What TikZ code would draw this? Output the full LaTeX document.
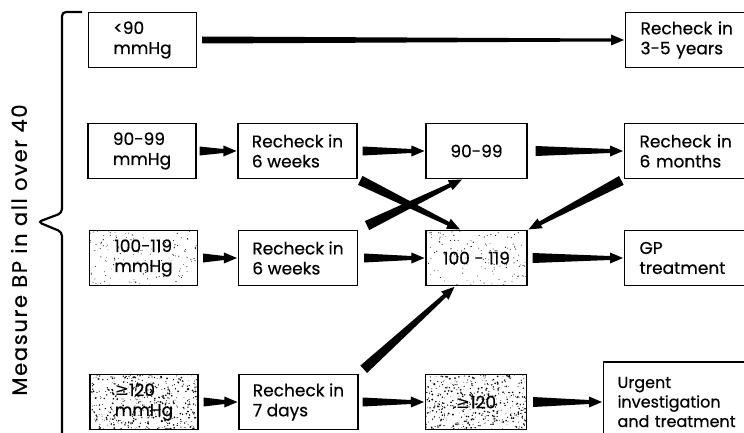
\documentclass[tikz,border=0pt]{standalone}
\usepackage{fontspec}
\setmainfont{Poppins}[FakeBold=0.5]
\newfontfamily\symfont{DejaVu Sans}
\usetikzlibrary{calc}

\begin{document}
\begin{tikzpicture}

  \tikzset{
    bpbox/.style={
      draw=black,
      line width=1.1pt,
      minimum height=55pt,
      inner xsep=6pt,
      align=left,
      font=\fontsize{17}{20}\selectfont
    },
    leftbox/.style={bpbox, minimum width=108pt},
    midbox/.style={bpbox, minimum width=119pt},
    resbox/.style={bpbox, minimum width=101pt, align=center},
    endbox/.style={bpbox, anchor=west, inner xsep=15pt, text width=160pt},
    light/.style={path picture={
      \foreach \k in {1,...,150}
        \fill ($(path picture bounding box.south west)+({rnd*110pt},{rnd*60pt})$) circle ({0.35pt+0.3pt*rnd});
    }},
    heavy/.style={path picture={
      \foreach \k in {1,...,520}
        \fill ($(path picture bounding box.south west)+({rnd*110pt},{rnd*60pt})$) circle ({0.3pt+0.7pt*rnd});
    }},
    along/.style={shift={(\p1)}, rotate=\n1},
    fat/.style n args={3}{to path={
      let \p1=(\tikztostart), \p2=(\tikztotarget),
          \n1={atan2(\y2-\y1,\x2-\x1)},
          \n2={veclen(\x2-\x1,\y2-\y1)-14},
          \n3={veclen(\x2-\x1,\y2-\y1)-1} in
      ([along]#3,#1) -- ([along]{\n2*1pt},#2) -- ([along]{\n2*1pt},5.5pt)
      -- ([along]{\n3*1pt},0pt) -- ([along]{\n2*1pt},-5.5pt)
      -- ([along]{\n2*1pt},-#2) -- ([along]#3,-#1) -- cycle
    }}
  }

  \pgfmathsetseed{7}
  \useasboundingbox (0pt,0pt) rectangle (744pt,432pt);

  \draw[line width=2.2pt, rounded corners=4pt]
    (82pt,420pt) -- (62pt,420pt) -- (62pt,219pt) -- (38pt,210pt)
    -- (62pt,200pt) -- (62pt,-10pt);
  \node[rotate=90, font=\fontsize{21}{21}\selectfont\addfontfeature{LetterSpace=8}] (title)
    at (19pt,182pt) {Measure BP in all over 40};

  \node[leftbox] (lt90) at (142.5pt,392pt) {<90\\mmHg};
  \node[endbox] (r35) at (625pt,392pt) {Recheck in\\3-5 years};

  \node[leftbox] (m9099) at (142pt,281pt) {90-99\\mmHg};
  \node[midbox] (rc6w1) at (297.5pt,281pt) {Recheck in\\6 weeks};
  \node[resbox] (c9099) at (476.5pt,281pt) {90-99};
  \node[endbox] (r6m) at (624pt,281pt) {Recheck in\\6 months};

  \node[leftbox, light] (m100) at (143.5pt,174pt) {100-119\\mmHg};
  \node[midbox] (rc6w2) at (298pt,174pt) {Recheck in\\6 weeks};
  \node[resbox, light] (c100) at (476.5pt,174pt) {100 - 119};
  \node[endbox] (gp) at (624pt,174pt) {GP\\treatment};

  \node[leftbox, heavy] (m120) at (144pt,30pt) {{\symfont ≥}120\\mmHg};
  \node[midbox] (rc7d) at (298.5pt,30pt) {Recheck in\\7 days};
  \node[resbox, heavy] (c120) at (476pt,30pt) {{\symfont ≥}120};
  \node[endbox, minimum height=80pt, inner xsep=14pt,
        font=\fontsize{16}{19.5}\selectfont] (urg) at (603pt,30pt)
    {Urgent\\investigation\\and treatment};

  \fill (lt90.east) to[fat={3.5pt}{1.5pt}{5pt}] (r35.west);
  \fill (m9099.east) to[fat={4.5pt}{2pt}{3pt}] (rc6w1.west);
  \fill (rc6w1.east) to[fat={4.5pt}{2pt}{5pt}] (c9099.west);
  \fill (c9099.east) to[fat={5pt}{2pt}{8pt}] (r6m.west);
  \fill (m100.east) to[fat={4.5pt}{2pt}{5pt}] (rc6w2.west);
  \fill (rc6w2.east) to[fat={4.5pt}{2pt}{6pt}] (c100.west);
  \fill (c100.east) to[fat={5pt}{2pt}{5pt}] (gp.west);
  \fill (m120.east) to[fat={4.5pt}{2pt}{5pt}] (rc7d.west);
  \fill (rc7d.east) to[fat={4.5pt}{2pt}{4pt}] (c120.west);
  \fill (c120.east) to[fat={5pt}{2pt}{6pt}] (urg.west);

  \fill (rc6w1.south east) to[fat={5pt}{2pt}{3pt}] (c100.119);
  \fill (rc6w2.north east) to[fat={5pt}{2pt}{10pt}] (c9099.244);
  \fill (r6m.south west) to[fat={5pt}{2pt}{3pt}] (c100.north east);
  \fill (rc7d.north east) to[fat={5pt}{2pt}{7pt}] (c100.233);

\end{tikzpicture}
\end{document}
